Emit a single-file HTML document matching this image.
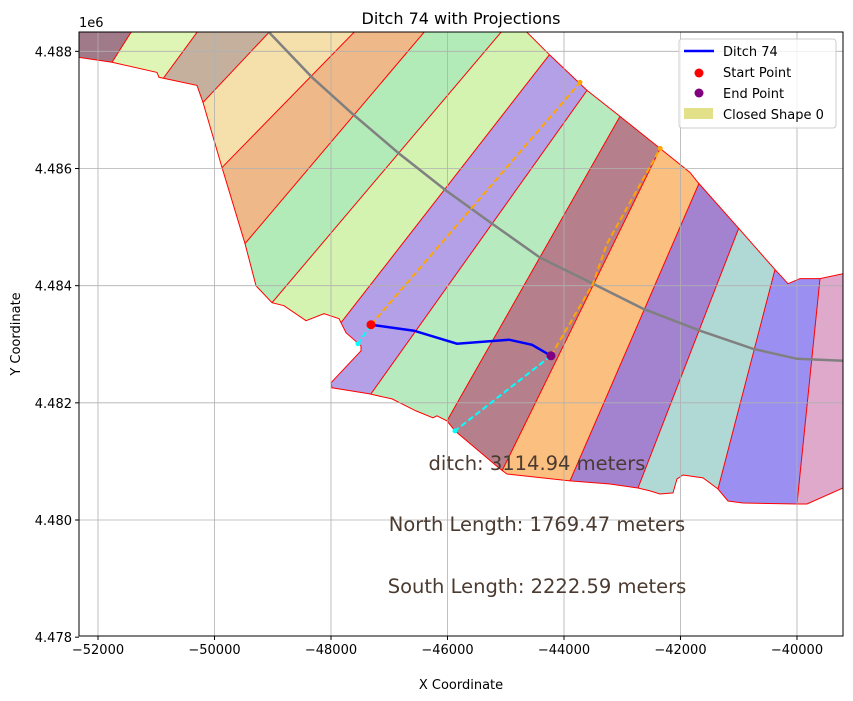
<!DOCTYPE html>
<html><head><meta charset="utf-8"><style>
html,body{margin:0;padding:0;background:#fff;overflow:hidden;width:853px;height:701px;}
svg{display:block;font-family:"DejaVu Sans","Liberation Sans",sans-serif;}
</style></head><body>
<svg id="chart" width="853" height="701" xmlns="http://www.w3.org/2000/svg">
<defs>
<clipPath id="plotClip"><rect x="79" y="32" width="764" height="604"/></clipPath>
<clipPath id="shapeClip"><polygon id="shapeClipPoly"/></clipPath>
</defs>
<rect width="853" height="701" fill="#fff"/>
<text x="461" y="24" text-anchor="middle" font-size="16">Ditch 74 with Projections</text>
<g id="plot" clip-path="url(#plotClip)">
<g id="strips" clip-path="url(#shapeClip)"></g>
<polygon id="outline" fill="none" stroke="red" stroke-width="1"/>
<g id="grid"></g>
<polyline id="road" fill="none" stroke="#808080" stroke-width="2.5"/>
<polyline id="north" fill="none" stroke="orange" stroke-width="2" stroke-dasharray="6,3"/>
<polyline id="south" fill="none" stroke="orange" stroke-width="2" stroke-dasharray="6,3"/>
<polyline id="cyanA" fill="none" stroke="cyan" stroke-width="2" stroke-dasharray="6,3"/>
<polyline id="cyanB" fill="none" stroke="cyan" stroke-width="2" stroke-dasharray="6,3"/>
<polyline id="ditch" fill="none" stroke="blue" stroke-width="2.5"/>
<g id="dots"></g>
</g>
<rect x="79" y="32" width="764" height="604" fill="none" stroke="#000" stroke-width="1"/>
<g id="ticks"></g>
<text x="79" y="27" font-size="13">1e6</text>
<text x="461" y="689" text-anchor="middle" font-size="13">X Coordinate</text>
<text transform="translate(20,334) rotate(-90)" text-anchor="middle" font-size="13">Y Coordinate</text>
<g font-size="19.5" fill="#4a3a30" text-anchor="middle">
<text x="537" y="470">ditch: 3114.94 meters</text>
<text x="537" y="531">North Length: 1769.47 meters</text>
<text x="537" y="593">South Length: 2222.59 meters</text>
</g>
<g>
<rect x="679" y="39" width="157" height="89" rx="3" fill="#fff" fill-opacity="0.8" stroke="#ccc"/>
<line x1="684" y1="51" x2="714" y2="51" stroke="blue" stroke-width="2.5"/>
<text x="723" y="56" font-size="13">Ditch 74</text>
<circle cx="699" cy="73" r="4.5" fill="red"/>
<text x="723" y="77" font-size="13">Start Point</text>
<circle cx="699" cy="93" r="4.5" fill="purple"/>
<text x="723" y="98" font-size="13">End Point</text>
<rect x="684" y="108" width="29" height="11" fill="#e3e08a"/>
<text x="723" y="119" font-size="13">Closed Shape 0</text>
</g>
</svg>
<script>
const xTicks=[-52000,-50000,-48000,-46000,-44000,-42000,-40000];
const yTicks=[4478000,4480000,4482000,4484000,4486000,4488000];
const yTickLabels=["4.478","4.480","4.482","4.484","4.486","4.488"];
const outlineX=[-52481,-52326,-51760,-50987,-50953,-50300,-50197,-49871,-49476,-49288,-49013,-48807,-48429,-48120,-47863,-47743,-47485,-47485,-48000,-47983,-47348,-46953,-46541,-46249,-46181,-46009,-45871,-45099,-44979,-43897,-43210,-42730,-42524,-42352,-42129,-42060,-41957,-41614,-41356,-41185,-40927,-40000,-39828,-39210,-39090,-39090,-39210,-39605,-39948,-40155,-40378,-41013,-41700,-41837,-42348,-43039,-43605,-44240,-44755,-52481];
const outlineY=[4487897,4487897,4487812,4487641,4487556,4487419,4487128,4486017,4484718,4484000,4483709,4483658,4483402,4483521,4483436,4483197,4482974,4482889,4482342,4482256,4482154,4482068,4481863,4481744,4481778,4481692,4481521,4480872,4480786,4480667,4480615,4480547,4480496,4480444,4480462,4480701,4480769,4480718,4480530,4480325,4480291,4480274,4480274,4480547,4480598,4484222,4484205,4484120,4484120,4484034,4484274,4484991,4485761,4485932,4486342,4486889,4487333,4487932,4488444,4488530];
const divX1=[-51760,-50867,-50197,-49871,-49476,-49013,-47828,-47313,-46009,-45064,-43897,-42730,-41356,-40000];
const divY1=[4487812,4487556,4487128,4486017,4484718,4483709,4483368,4482154,4481692,4480838,4480667,4480547,4480530,4480274];
const divX2=[-51433,-50300,-49064,-47605,-46403,-45082,-44258,-43605,-43039,-42348,-41683,-40996,-40378,-39605];
const divY2=[4488325,4488325,4488325,4488325,4488325,4488325,4487932,4487333,4486889,4486342,4485744,4484991,4484274,4484120];
const stripColors=["#a07a88","#dff5b6","#c5b09e","#f5dfaa","#efb888","#b2ebb7","#d4f2b0","#b4a0e6","#b8eac0","#b5808b","#fbbf80","#a383d0","#b0d8d5","#9b90f2","#dfa9cc"];
const roadX=[-49391,-49064,-48326,-47640,-46833,-46026,-45236,-44412,-43605,-42644,-41665,-40755,-40000,-39210];
const roadY=[4488615,4488325,4487556,4486940,4486256,4485624,4485060,4484479,4484085,4483607,4483231,4482923,4482752,4482718];
const ditchX=[-47313,-46575,-45837,-44944,-44549,-44223];
const ditchY=[4483333,4483231,4483009,4483077,4482991,4482803];
const northX=[-47313,-43725];
const northY=[4483333,4487470];
const southX=[-44223,-43502,-43262,-42348];
const southY=[4482803,4484034,4484718,4486342];
const cyanAX=[-47313,-47536], cyanAY=[4483333,4483009];
const cyanBX=[-44223,-45871], cyanBY=[4482803,4481521];

const X0=79,X1=843,Y0=32,Y1=636;
const xMin=-52326,xMax=-39210,yMin=4478020,yMax=4488330;
const sx=v=>X0+(v-xMin)/(xMax-xMin)*(X1-X0);
const sy=v=>Y1-(v-yMin)/(yMax-yMin)*(Y1-Y0);
const NS="http://www.w3.org/2000/svg";
const pts=(xs,ys)=>xs.map((x,i)=>sx(x).toFixed(1)+","+sy(ys[i]).toFixed(1)).join(" ");
function mk(tag,parent){const e=document.createElementNS(NS,tag);parent.appendChild(e);return e;}

document.getElementById('shapeClipPoly').setAttribute('points',pts(outlineX,outlineY));
document.getElementById('outline').setAttribute('points',pts(outlineX,outlineY));

function ext(i,dx){
  const x1=divX1[i]+dx,y1=divY1[i],x2=divX2[i]+dx,y2=divY2[i];
  const L=Math.hypot(x2-x1,y2-y1),ux=(x2-x1)/L,uy=(y2-y1)/L,E=6000;
  return [[x1-ux*E,y1-uy*E],[x2+ux*E,y2+uy*E]];
}
const strips=document.getElementById('strips');
const n=divX1.length;
for(let s=0;s<=n;s++){
  const a=s===0?ext(0,-4000):ext(s-1,0);
  const b=s===n?ext(n-1,4000):ext(s,0);
  const p=mk('polygon',strips);
  
  
  const q=[a[0],a[1],b[1],b[0]];
  p.setAttribute('points',q.map(c=>sx(c[0]).toFixed(1)+","+sy(c[1]).toFixed(1)).join(" "));
  p.setAttribute('fill',stripColors[s]);
}
for(let i=0;i<n;i++){
  const e=ext(i,0);const l=mk('line',strips);
  
  
  l.setAttribute('x1',sx(e[0][0]));l.setAttribute('y1',sy(e[0][1]));
  l.setAttribute('x2',sx(e[1][0]));l.setAttribute('y2',sy(e[1][1]));
  l.setAttribute('stroke','red');l.setAttribute('stroke-width','1');
}
const grid=document.getElementById('grid'),ticks=document.getElementById('ticks');
xTicks.forEach(v=>{
  const x=sx(v);
  const g=mk('line',grid);
  
  
  g.setAttribute('x1',x);g.setAttribute('x2',x);g.setAttribute('y1',Y0);g.setAttribute('y2',Y1);
  g.setAttribute('stroke','#b0b0b0');g.setAttribute('stroke-width','0.8');
  const t=mk('line',ticks);
  
  
  t.setAttribute('x1',x);t.setAttribute('x2',x);t.setAttribute('y1',Y1);t.setAttribute('y2',Y1+4);t.setAttribute('stroke','#000');
  const tx=mk('text',ticks);
  
  
  tx.setAttribute('x',x);tx.setAttribute('y',Y1+18);tx.setAttribute('text-anchor','middle');tx.setAttribute('font-size','13');
  tx.textContent=(v<0?"\u2212":"")+Math.abs(v);
});
yTicks.forEach((v,i)=>{
  const y=sy(v);
  const g=mk('line',grid);
  
  
  g.setAttribute('x1',X0);g.setAttribute('x2',X1);g.setAttribute('y1',y);g.setAttribute('y2',y);
  g.setAttribute('stroke','#b0b0b0');g.setAttribute('stroke-width','0.8');
  const t=mk('line',ticks);
  
  
  t.setAttribute('x1',X0-4);t.setAttribute('x2',X0);t.setAttribute('y1',y);t.setAttribute('y2',y);t.setAttribute('stroke','#000');
  const tx=mk('text',ticks);
  
  
  tx.setAttribute('x',X0-7);tx.setAttribute('y',y+5);tx.setAttribute('text-anchor','end');tx.setAttribute('font-size','13');
  tx.textContent=yTickLabels[i];
});
document.getElementById('road').setAttribute('points',pts(roadX,roadY));
document.getElementById('ditch').setAttribute('points',pts(ditchX,ditchY));
document.getElementById('north').setAttribute('points',pts(northX,northY));
document.getElementById('south').setAttribute('points',pts(southX,southY));
document.getElementById('cyanA').setAttribute('points',pts(cyanAX,cyanAY));
document.getElementById('cyanB').setAttribute('points',pts(cyanBX,cyanBY));
const dots=document.getElementById('dots');
function dot(x,y,r,c,name){const d=mk('circle',dots);
  
  
  d.setAttribute('cx',sx(x));d.setAttribute('cy',sy(y));d.setAttribute('r',r);d.setAttribute('fill',c);}
dot(northX[northX.length-1],northY[northY.length-1],2.5,'orange','north-projection-end');
dot(southX[southX.length-1],southY[southY.length-1],2.5,'orange','south-projection-end');
dot(cyanAX[1],cyanAY[1],2.5,'cyan','start-cyan-end');
dot(cyanBX[1],cyanBY[1],2.5,'cyan','end-cyan-end');
dot(ditchX[0],ditchY[0],4.5,'red','start-point');
dot(ditchX[ditchX.length-1],ditchY[ditchY.length-1],4.5,'purple','end-point');
</script>
</body></html>
